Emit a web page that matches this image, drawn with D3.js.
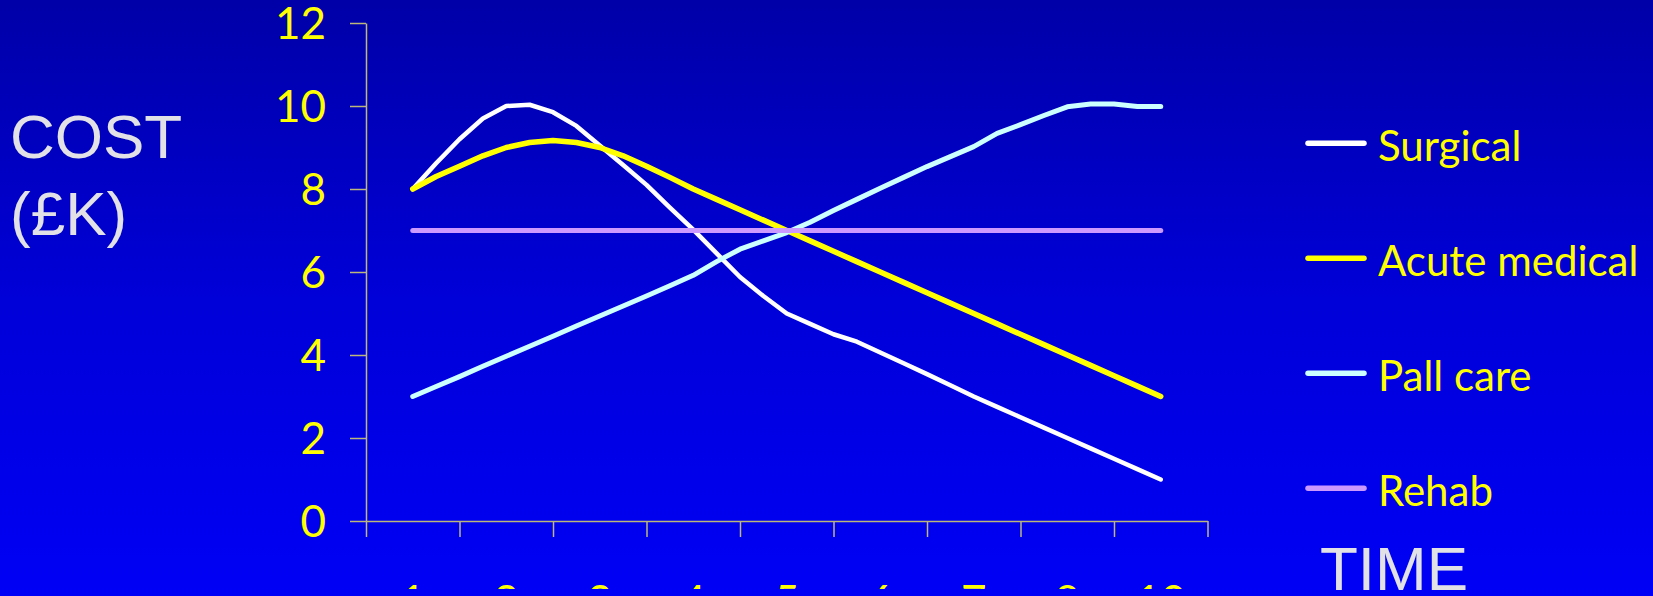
<!DOCTYPE html>
<html>
<head>
<meta charset="utf-8">
<title>Cost over time</title>
<script src="https://cdn.jsdelivr.net/npm/d3@7"></script>
<style>
  html, body { margin: 0; padding: 0; overflow: hidden; }
  body { width: 1653px; height: 596px; }
</style>
</head>
<body>
<div id="chart"></div>
<script>
// category labels along the time axis (the 9th slot is labelled "10" on the slide)
var categories = ["1", "2", "3", "4", "5", "6", "7", "8", "10"];
var yTicks = [0, 2, 4, 6, 8, 10, 12];

// position along the time axis, in category units (quarter steps)
var time = [1, 1.25, 1.5, 1.75, 2, 2.25, 2.5, 2.75, 3, 3.25, 3.5, 3.75, 4, 4.25, 4.5, 4.75,
            5, 5.25, 5.5, 5.75, 6, 6.25, 6.5, 6.75, 7, 7.25, 7.5, 7.75, 8, 8.25, 8.5, 8.75, 9];

var surgical = [8.0, 8.62, 9.2, 9.7, 10.0, 10.03, 9.85, 9.52, 9.05, 8.58, 8.1, 7.55, 7.02, 6.45, 5.88, 5.42,
                5.0, 4.75, 4.5, 4.32, 4.06, 3.8, 3.54, 3.27, 3.0, 2.75, 2.5, 2.25, 2.0, 1.75, 1.5, 1.25, 1.0];
var acuteMedical = [8.0, 8.3, 8.55, 8.8, 9.0, 9.12, 9.17, 9.12, 9.0, 8.8, 8.55, 8.28, 8.0, 7.75, 7.5, 7.25,
                    7.0, 6.75, 6.5, 6.25, 6.0, 5.75, 5.5, 5.25, 5.0, 4.75, 4.5, 4.25, 4.0, 3.75, 3.5, 3.25, 3.0];
var pallCare = [3.0, 3.24, 3.48, 3.73, 3.97, 4.21, 4.45, 4.7, 4.94, 5.18, 5.42, 5.67, 5.92, 6.25, 6.55, 6.75,
                6.95, 7.2, 7.48, 7.75, 8.02, 8.28, 8.54, 8.78, 9.02, 9.34, 9.55, 9.77, 9.98, 10.05, 10.05, 9.99, 9.99];
var rehab = [7, 7, 7, 7, 7, 7, 7, 7, 7, 7, 7, 7, 7, 7, 7, 7,
             7, 7, 7, 7, 7, 7, 7, 7, 7, 7, 7, 7, 7, 7, 7, 7, 7];

var seriesNames = ["Surgical", "Acute medical", "Pall care", "Rehab"];
var seriesColors = ["#ffffff", "#ffff00", "#ccffff", "#cc99ff"];
var seriesWidths = [4.5, 5.5, 5, 5];
var seriesValues = [surgical, acuteMedical, pallCare, rehab];

var chartW = 1653, chartH = 596;
var plotLeft = 366, plotRight = 1207.5, plotTop = 23, plotBottom = 521;

var svg = d3.select("#chart").append("svg")
  .attr("width", chartW).attr("height", chartH);

var defs = svg.append("defs");
var grad = defs.append("linearGradient").attr("id", "bg")
  .attr("x1", 0).attr("y1", 0).attr("x2", 0).attr("y2", 1);
grad.append("stop").attr("offset", "0%").attr("stop-color", "#0000a8");
grad.append("stop").attr("offset", "50%").attr("stop-color", "#0000d8");
grad.append("stop").attr("offset", "100%").attr("stop-color", "#0000f6");

defs.append("clipPath").attr("id", "cutoff")
  .append("rect").attr("x", 0).attr("y", 0).attr("width", chartW).attr("height", 589);

svg.append("rect").attr("width", chartW).attr("height", chartH).attr("fill", "url(#bg)");

var x = d3.scaleLinear().domain([0.5, categories.length + 0.5]).range([plotLeft, plotRight]);
var y = d3.scaleLinear().domain([0, 12]).range([plotBottom, plotTop]);

var axisColor = "#bdb77a";

// y axis
var yAxis = svg.append("g")
  .attr("transform", "translate(" + plotLeft + ",0)")
  .call(d3.axisLeft(y).tickValues(yTicks).tickSize(16).tickSizeOuter(0).tickPadding(24));
yAxis.select(".domain").attr("stroke", axisColor).attr("stroke-width", 1.5);
yAxis.selectAll(".tick line").attr("stroke", axisColor).attr("stroke-width", 1.5);
yAxis.selectAll(".tick text")
  .attr("fill", "#ffff00")
  .attr("font-family", "Lato, 'Noto Sans', sans-serif")
  .attr("font-size", 44)
  .attr("dy", "0.36em");

// x axis: tick marks sit between the categories
var xTickVals = d3.range(0, categories.length + 1).map(function(i) { return i + 0.5; });
var xAxis = svg.append("g")
  .attr("transform", "translate(0," + plotBottom + ")")
  .call(d3.axisBottom(x).tickValues(xTickVals).tickSize(16).tickSizeOuter(0).tickFormat(""));
xAxis.select(".domain").attr("stroke", axisColor).attr("stroke-width", 1.5);
xAxis.selectAll(".tick line").attr("stroke", axisColor).attr("stroke-width", 1.5);

// category labels, mostly cut off by the bottom of the slide
svg.append("g").attr("clip-path", "url(#cutoff)")
  .selectAll("text").data(categories).enter().append("text")
  .attr("x", function(d, i) { return x(i + 1); })
  .attr("y", 617)
  .attr("text-anchor", "middle")
  .attr("fill", "#ffff00")
  .attr("font-family", "Lato, 'Noto Sans', sans-serif")
  .attr("font-size", 44)
  .text(function(d) { return d; });

// lines
var line = d3.line()
  .x(function(d) { return x(d[0]); })
  .y(function(d) { return y(d[1]); });

seriesValues.forEach(function(vals, s) {
  var pts = time.map(function(t, i) { return [t, vals[i]]; });
  svg.append("path")
    .datum(pts)
    .attr("d", line)
    .attr("fill", "none")
    .attr("stroke", seriesColors[s])
    .attr("stroke-width", seriesWidths[s])
    .attr("stroke-linecap", "round")
    .attr("stroke-linejoin", "round");
});

// legend
var legendY = d3.scalePoint().domain(seriesNames).range([143.3, 488.3]);
var legend = svg.append("g");
seriesNames.forEach(function(name, s) {
  var ly = legendY(name);
  legend.append("line")
    .attr("x1", 1308).attr("x2", 1364)
    .attr("y1", ly).attr("y2", ly)
    .attr("stroke", seriesColors[s])
    .attr("stroke-width", 5.5)
    .attr("stroke-linecap", "round");
  legend.append("text")
    .attr("x", 1378).attr("y", ly + 18)
    .attr("fill", "#ffff00")
    .attr("font-family", "Lato, 'Noto Sans', sans-serif")
    .attr("font-size", 42)
    .text(name);
});

// axis titles
var titleFont = "'Liberation Sans', Arial, sans-serif";
svg.append("text").attr("x", 10).attr("y", 158)
  .attr("fill", "#e2e2e6").attr("font-family", titleFont).attr("font-size", 62)
  .text("COST");
svg.append("text").attr("x", 10).attr("y", 235)
  .attr("fill", "#e2e2e6").attr("font-family", titleFont).attr("font-size", 62)
  .text("(£K)");
svg.append("text").attr("x", 1320).attr("y", 590)
  .attr("fill", "#e2e2e6").attr("font-family", titleFont).attr("font-size", 62)
  .text("TIME");
</script>
</body>
</html>
